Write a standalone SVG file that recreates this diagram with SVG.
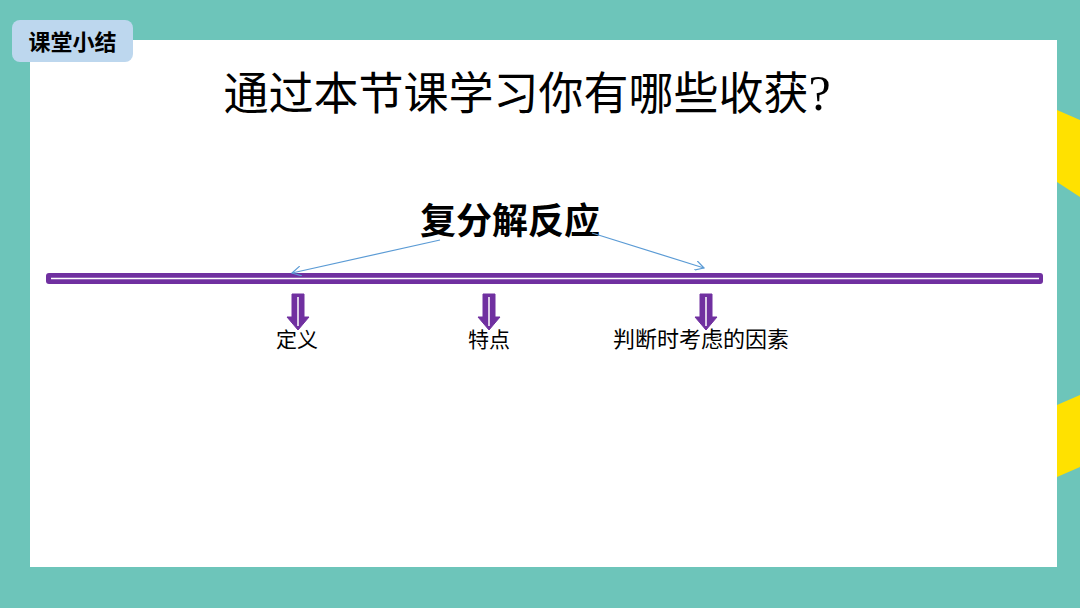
<svg xmlns="http://www.w3.org/2000/svg" width="1080" height="608" viewBox="0 0 1080 608">
<defs>
<style>
.cjk{font-family:"Noto Sans CJK SC","Noto Sans",sans-serif;fill:#000}
.serif{font-family:"Liberation Serif","Noto Sans CJK SC",serif;fill:#000}
.blue{stroke:#5B9BD5;stroke-width:1.2;fill:none}
.parrow{fill:#7030A0;stroke:#7030A0;stroke-width:1;stroke-linejoin:round}
.inner{stroke:#fff;stroke-width:1.5}
</style>
<marker id="open" viewBox="0 0 10 10" refX="9" refY="5" markerWidth="10" markerHeight="10" markerUnits="userSpaceOnUse" orient="auto">
<path d="M0,0 L9,5 L0,10" fill="none" stroke="#5B9BD5" stroke-width="1.2"/>
</marker>
</defs>
<rect width="1080" height="608" fill="#6DC5BA"/>
<polygon points="1057,110 1080,120 1080,197 1057,182" fill="#FFE100"/>
<polygon points="1057,405 1080,395 1080,467 1057,477" fill="#FFE100"/>
<rect x="30" y="40" width="1027" height="527" fill="#FFFFFF"/>
<g id="badge">
<rect x="12" y="20" width="121" height="42" rx="8" fill="#BDD7EE"/>
<text x="72.5" y="50" text-anchor="middle" class="cjk" font-size="22" font-weight="bold">课堂小结</text>
</g>
<g id="title">
<text x="527" y="110" text-anchor="middle" class="cjk" font-size="45">通过本节课学习你有哪些收获<tspan class="serif" font-size="50">?</tspan></text>
</g>
<g id="main">
<text x="510" y="234" text-anchor="middle" class="cjk" font-size="36" font-weight="bold">复分解反应</text>
</g>
<g id="timeline">
<rect x="46" y="273" width="997" height="11" rx="3" fill="#7030A0"/>
<line x1="51" y1="278.5" x2="1039" y2="278.5" class="inner"/>
</g>
<g id="connectors">
<line x1="440" y1="240" x2="292" y2="273" class="blue" marker-end="url(#open)"/>
<line x1="592" y1="233" x2="704" y2="268" class="blue" marker-end="url(#open)"/>
<g id="arrow1">
<path d="M292,294 h12 v23 h5 l-11,13 l-11,-13 h5 z" class="parrow"/>
<line x1="298" y1="297" x2="298" y2="326" class="inner"/>
</g>
<g id="arrow2">
<path d="M483,294 h12 v23 h5 l-11,13 l-11,-13 h5 z" class="parrow"/>
<line x1="489" y1="297" x2="489" y2="326" class="inner"/>
</g>
<g id="arrow3">
<path d="M700,294 h12 v23 h5 l-11,13 l-11,-13 h5 z" class="parrow"/>
<line x1="706" y1="297" x2="706" y2="326" class="inner"/>
</g>
</g>
<g id="label1"><text x="297" y="347" text-anchor="middle" class="cjk" font-size="21">定义</text></g>
<g id="label2"><text x="489" y="347" text-anchor="middle" class="cjk" font-size="21">特点</text></g>
<g id="label3"><text x="701" y="347" text-anchor="middle" class="cjk" font-size="22">判断时考虑的因素</text></g>
</svg>
